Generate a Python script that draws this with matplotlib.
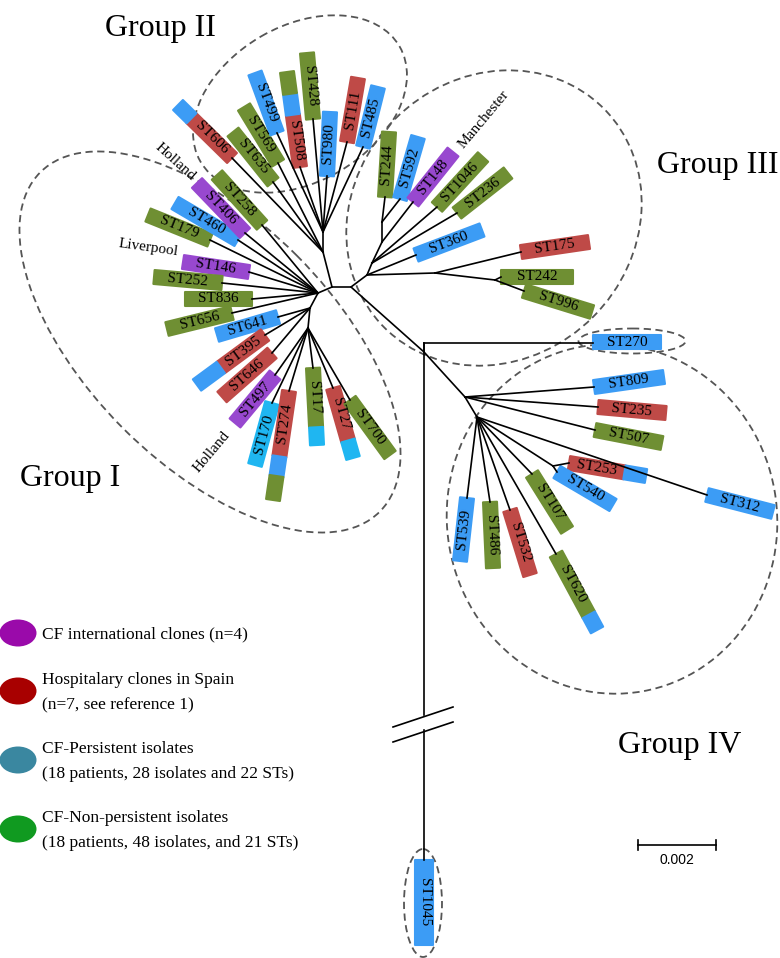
import numpy as np
import matplotlib.pyplot as plt
from matplotlib.patches import Ellipse, Polygon

plt.rcParams['font.family'] = ['Liberation Serif', 'DejaVu Serif']

# colour codes of the ST boxes
box_colors = {'G': '#6F8F33', 'B': '#3C9CF5', 'R': '#BF4A47', 'P': '#9848CF', 'C': '#1FB6F1'}

# internal nodes of the tree (pixel coordinates)
nodes = {
    'A': (332, 287), 'B': (351, 287), 'C': (318, 293), 'N1': (310, 308), 'N2': (308, 328),
    'G2': (323, 252), 'G3': (323, 232), 'I': (367, 275), 'J': (435, 273), 'K': (495, 280),
    'M': (372, 263), 'L': (382, 242), 'L2': (382, 222), 'D': (424, 352), 'D0': (424, 343),
    'F': (465, 397), 'E': (477, 417), 'H': (553, 466),
}
edges = [('A', 'B'), ('A', 'G2'), ('A', 'C'), ('G2', 'G3'), ('C', 'N1'), ('N1', 'N2'),
         ('B', 'I'), ('I', 'J'), ('J', 'K'), ('I', 'M'), ('M', 'L'), ('L', 'L2'),
         ('B', 'D'), ('D', 'D0'), ('D', 'F'), ('F', 'E'), ('E', 'H')]

# leaves: name, parent node, inner end, outer end, colour parts (inner -> outer)
leaf_names = ['ST179', 'ST460', 'ST406', 'ST258', 'ST146', 'ST252', 'ST836', 'ST656',
              'ST641', 'ST395', 'ST646', 'ST497', 'ST170', 'ST274', 'ST17', 'ST27', 'ST700',
              'ST606', 'ST635', 'ST569', 'ST499', 'ST508', 'ST428', 'ST980', 'ST111', 'ST485',
              'ST244', 'ST592', 'ST148', 'ST1046', 'ST236', 'ST360', 'ST175', 'ST242', 'ST996',
              'ST270', 'ST809', 'ST235', 'ST507', 'ST312', 'ST253', 'ST540', 'ST107', 'ST620',
              'ST532', 'ST486', 'ST539', 'ST1045']
leaf_parent = ['C', 'C', 'C', 'C', 'C', 'C', 'C', 'C',
               'N1', 'N1', 'N1', 'N2', 'N2', 'N2', 'N2', 'N2', 'N2',
               'G2', 'G2', 'G2', 'G3', 'G3', 'G3', 'G3', 'G3', 'G3',
               'L2', 'L2', 'L', 'M', 'M', 'I', 'J', 'K', 'K',
               'D0', 'F', 'F', 'F', 'E', 'H', 'H', 'E', 'E',
               'E', 'E', 'E', 'D0']
leaf_inner = [(210, 240), (238, 240), (245, 233), (262, 225), (249, 272), (222, 283), (252, 299), (232, 313),
              (278, 317), (265, 335), (272, 353), (275, 375), (272, 403), (289, 391), (313, 368), (333, 388), (350, 400),
              (232, 158), (273, 182), (278, 163), (277, 133), (300, 167), (313, 119), (327, 176), (347, 142), (363, 147),
              (385, 197), (400, 199), (413, 202), (437, 207), (457, 213), (416, 255), (521, 252), (501, 277), (524, 291),
              (593, 342), (594, 387), (598, 407), (595, 430), (707, 495), (569, 463), (557, 472), (532, 474), (556, 554),
              (510, 510), (490, 502), (467, 498), (424, 860)]
leaf_outer = [(148, 215), (175, 203), (197, 183), (217, 175), (183, 262), (154, 277), (185, 299), (167, 329),
              (217, 335), (197, 385), (222, 397), (235, 423), (255, 465), (273, 500), (317, 445), (353, 458), (390, 455),
              (178, 105), (233, 132), (244, 107), (255, 73), (287, 72), (307, 53), (330, 112), (358, 78), (378, 87),
              (389, 132), (418, 137), (453, 152), (483, 157), (508, 173), (482, 230), (589, 242), (573, 277), (592, 312),
              (661, 342), (664, 377), (666, 413), (662, 443), (773, 512), (646, 476), (613, 505), (567, 530), (597, 630),
              (530, 575), (493, 568), (460, 561), (424, 945)]
leaf_parts = [[('G', 1)], [('B', 1)], [('P', 1)], [('G', 1)], [('P', 1)], [('G', 1)], [('G', 1)], [('G', 1)],
              [('B', 1)], [('R', .65), ('B', .35)], [('R', 1)], [('P', 1)], [('C', 1)],
              [('R', .6), ('B', .18), ('G', .22)], [('G', .77), ('C', .23)], [('R', .75), ('C', .25)], [('G', 1)],
              [('R', .75), ('B', .25)], [('G', 1)], [('G', 1)], [('B', 1)], [('R', .55), ('B', .22), ('G', .23)],
              [('G', 1)], [('B', 1)], [('R', 1)], [('B', 1)],
              [('G', 1)], [('B', 1)], [('P', 1)], [('G', 1)], [('G', 1)], [('B', 1)], [('R', 1)], [('G', 1)], [('G', 1)],
              [('B', 1)], [('B', 1)], [('R', 1)], [('G', 1)], [('B', 1)], [('R', .72), ('B', .28)], [('B', 1)],
              [('G', 1)], [('G', .8), ('B', .2)], [('R', 1)], [('G', 1)], [('B', 1)], [('B', 1)]]
leaf_width = {'ST1045': 18}

# dashed outlines: centre, width, height, angle
group_ellipses = [((210, 342), 480, 245, 45), ((300, 104), 230, 156, -30), ((494, 218), 310, 280, -45),
                  ((612, 519), 350, 330, 80), ((632, 341), 107, 25, 0), ((423, 903), 38, 108, 0)]
group_labels = ['Group I', 'Group II', 'Group III', 'Group IV']
group_label_pos = [(70, 478), (160, 28), (718, 165), (680, 746)]
place_labels = ['Holland', 'Liverpool', 'Manchester', 'Holland']
place_label_pos = [(175, 162), (148, 248), (484, 119), (212, 452)]
place_label_rot = [-42, -8, 50, 50]

legend_colors = ['#9A0AAA', '#A80000', '#3A87A0', '#109A20']
legend_lines = [['CF international clones (n=4)'],
                ['Hospitalary clones in Spain', '(n=7, see reference 1)'],
                ['CF-Persistent isolates', '(18 patients, 28 isolates and 22 STs)'],
                ['CF-Non-persistent isolates', '(18 patients, 48 isolates, and 21 STs)']]
legend_y = [633, 691, 760, 829]

break_gap = (715, 730)
scale_bar = (638, 716, 845)

fig = plt.figure(figsize=(7.8, 9.58), dpi=100)
ax = fig.add_axes([0, 0, 1, 1])
ax.set_xlim(0, 780)
ax.set_ylim(958, 0)
ax.axis('off')

lw = 1.2
for p, c in edges:
    (x0, y0), (x1, y1) = nodes[p], nodes[c]
    ax.plot([x0, x1], [y0, y1], color='black', lw=lw, solid_capstyle='round')

for (cx, cy), w, h, ang in group_ellipses:
    ax.add_patch(Ellipse((cx, cy), w, h, angle=ang, fill=False, ec='#555555',
                         lw=1.3, ls=(0, (4, 2.5))))

for name, par, p_in, p_out, parts in zip(leaf_names, leaf_parent, leaf_inner, leaf_outer, leaf_parts):
    p_in = np.array(p_in, float)
    p_out = np.array(p_out, float)
    px, py = nodes[par]
    if name == 'ST1045':
        ax.plot([px, px], [py, break_gap[0]], color='black', lw=lw)
        ax.plot([px, px], [break_gap[1], p_in[1]], color='black', lw=lw)
        for yb in (break_gap[0] + 4, break_gap[1] + 4):
            ax.plot([px - 31, px + 29], [yb + 8, yb - 12], color='black', lw=lw)
    elif name == 'ST270':
        ax.plot([px, p_in[0]], [py, py], color='black', lw=lw)
    else:
        ax.plot([px, p_in[0]], [py, p_in[1]], color='black', lw=lw)
    vec = p_out - p_in
    length = np.hypot(*vec)
    d = vec / length
    n = np.array([-d[1], d[0]])
    half = leaf_width.get(name, 14) / 2
    start = 0.0
    for code, frac in parts:
        a = p_in + d * length * start
        b = p_in + d * length * (start + frac)
        poly = [a + n * half, b + n * half, b - n * half, a - n * half]
        col = box_colors[code]
        ax.add_patch(Polygon(poly, closed=True, fc=col, ec=col, lw=1.5, joinstyle='round'))
        start += frac
    tc = p_in + d * length * parts[0][1] / 2
    phi = np.degrees(np.arctan2(-vec[1], vec[0]))
    rot = phi if -90 <= phi <= 90 else phi - 180
    if rot < -180:
        rot += 360
    ax.text(tc[0], tc[1], name, fontsize=11, rotation=rot, rotation_mode='anchor',
            ha='center', va='center', color='black')

for txt, (x, y) in zip(group_labels, group_label_pos):
    ax.text(x, y, txt, fontsize=23, ha='center', va='center')

for txt, (x, y), r in zip(place_labels, place_label_pos, place_label_rot):
    ax.text(x, y, txt, fontsize=11, rotation=r, rotation_mode='anchor', ha='center', va='center')

for col, lines, y in zip(legend_colors, legend_lines, legend_y):
    ax.add_patch(Ellipse((18, y), 37, 27, fc=col, ec='none'))
    if len(lines) == 1:
        ax.text(42, y + 1, lines[0], fontsize=12.5, va='center')
    else:
        ax.text(42, y - 11, lines[0], fontsize=12.5, va='center')
        ax.text(42, y + 14, lines[1], fontsize=12.5, va='center')

x0, x1, ys = scale_bar
ax.plot([x0, x1], [ys, ys], color='black', lw=1.2)
ax.plot([x0, x0], [ys - 5, ys + 5], color='black', lw=1.2)
ax.plot([x1, x1], [ys - 5, ys + 5], color='black', lw=1.2)
ax.text((x0 + x1) / 2, ys + 15, '0.002', fontsize=10, family='Liberation Sans', ha='center', va='center')

fig.savefig('out.png', dpi=100)
